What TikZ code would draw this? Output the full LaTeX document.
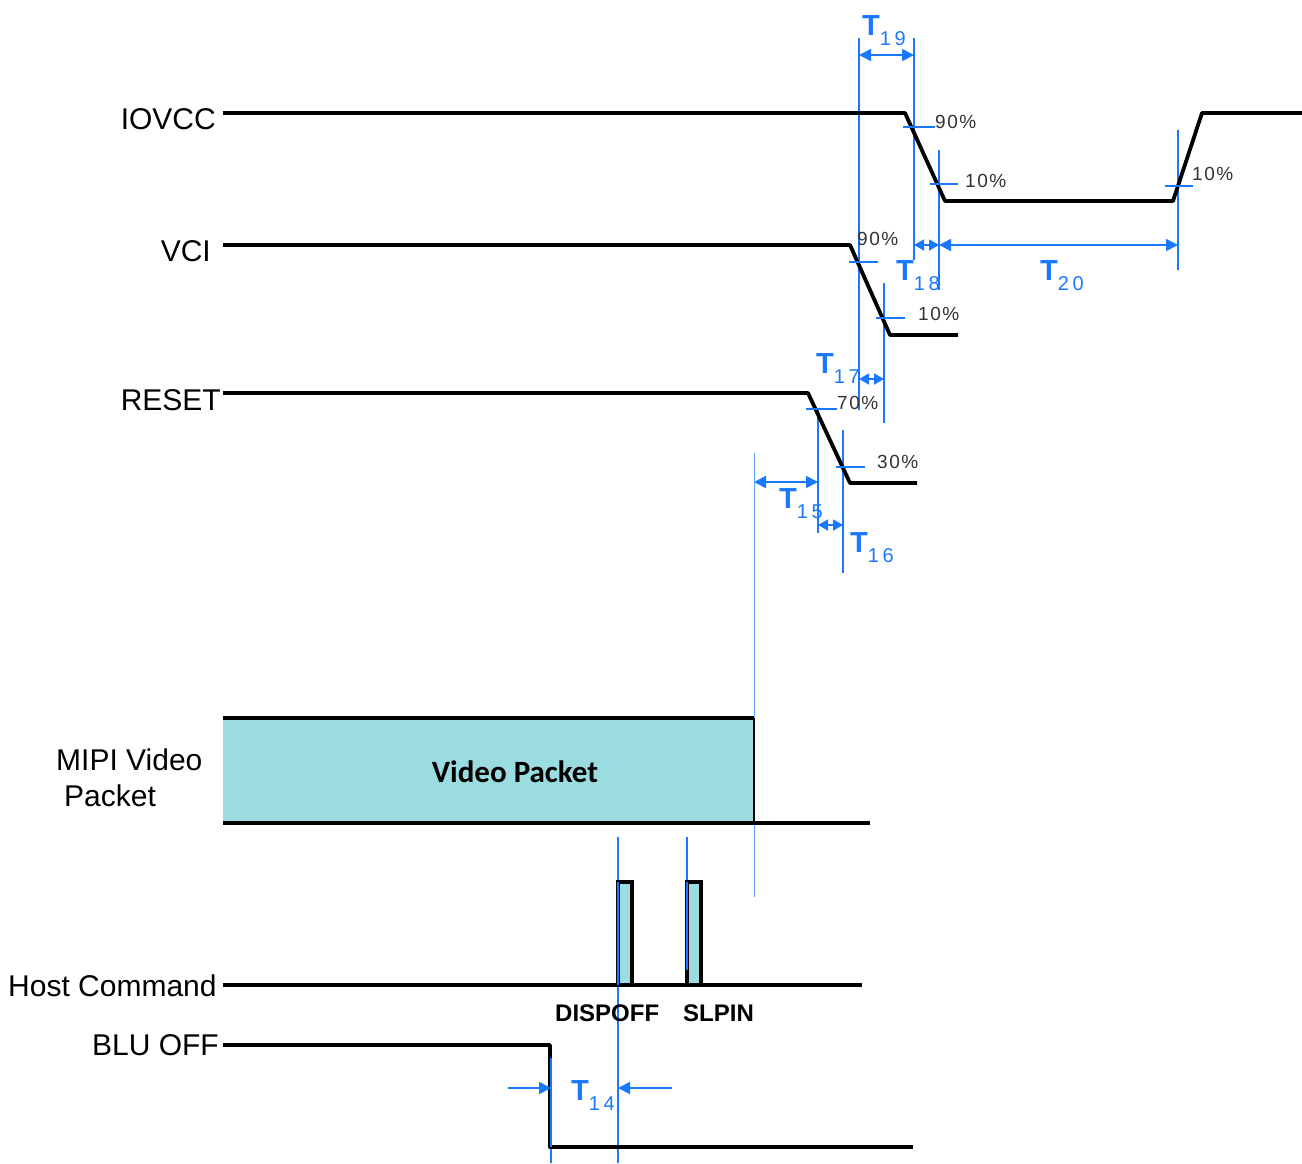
\documentclass[tikz,border=0pt]{standalone}
\usepackage{fontspec}
\setmainfont{Liberation Sans}
\newfontfamily\vpfont{Carlito}
\usetikzlibrary{arrows.meta}
\definecolor{dimblue}{RGB}{25,120,255}
\definecolor{pktcyan}{RGB}{154,220,224}
\newcommand{\Tlab}[1]{{\fontsize{29}{29}\selectfont\bfseries T}\raisebox{-10pt}{\fontsize{20}{20}\selectfont\addfontfeature{LetterSpace=18}#1}}
\begin{document}
\begin{tikzpicture}[x=1pt,y=-1pt,
  sig/.style={line width=3.8pt, line join=round},
  dimline/.style={dimblue, line width=1.3pt},
  faint/.style={dimblue!70, line width=1pt},
  tick/.style={dimblue, line width=1.3pt},
  dimarr/.style={dimblue, line width=1.8pt, {Triangle[length=12pt,width=12pt]}-{Triangle[length=12pt,width=12pt]}},
  smallarr/.style={dimblue, line width=1.8pt, {Triangle[length=10pt,width=11pt]}-{Triangle[length=10pt,width=11pt]}},
  onearr/.style={dimblue, line width=1.8pt, -{Triangle[length=12pt,width=12pt]}},
  siglabel/.style={font=\fontsize{30}{30}\selectfont, inner sep=0pt},
  pct/.style={font=\fontsize{19}{19}\selectfont\addfontfeature{LetterSpace=8}, text=black!80, inner sep=0pt, anchor=base west},
  tlab/.style={dimblue, inner sep=0pt, anchor=base west},
  cmd/.style={font=\fontsize{24}{24}\selectfont\bfseries, inner sep=0pt, anchor=base west}]
\path[use as bounding box] (0,0) rectangle (1302,1163);

% ---- blue guide lines
\draw[dimline] (859,38) -- (859,410);
\draw[dimline] (914,38) -- (914,260);
\draw[dimline] (939,150) -- (939,290);
\draw[dimline] (1178,130) -- (1178,270);
\draw[dimline] (884,283) -- (884,423);
\draw[dimline] (818,409) -- (818,533);
\draw[dimline] (843,430) -- (843,573);
\draw[faint] (754,453) -- (754,897);
\draw[dimline] (618,837) -- (618,1163);
\draw[dimline] (687,837) -- (687,970);
\draw[dimline] (551,1058) -- (551,1163);

% ---- video packet
\fill[pktcyan] (223,718) rectangle (754,823);
\draw[black, line width=2pt] (754,718) -- (754,823);
\draw[sig] (223,718) -- (754,718);
\draw[sig] (223,823) -- (870,823);
\node[font=\vpfont\fontsize{31}{31}\selectfont\bfseries, inner sep=0pt, anchor=base] (vp) at (515,782) {Video Packet};

% ---- signals
\draw[sig] (223,113) -- (905,113) -- (945,201) -- (1173,201) -- (1202,113) -- (1302,113);
\draw[sig] (223,245) -- (850,245) -- (890,335) -- (958,335);
\draw[sig] (223,393) -- (808,393) -- (850,483) -- (917,483);
\draw[sig] (223,985) -- (862,985);
\draw[line width=3.2pt, fill=pktcyan] (618,985) rectangle (632,882);
\draw[line width=3.2pt, fill=pktcyan] (687,985) rectangle (701,882);
\draw[dimline] (687,882) -- (687,970);
\draw[dimline] (618,882) -- (618,985);
\draw[sig] (223,1045) -- (550,1045) -- (550,1147) -- (913,1147);
\draw[dimline] (551,1058) -- (551,1147);

% ---- level ticks
\draw[tick] (903,127) -- (935,127);
\draw[tick] (930,184) -- (958,184);
\draw[tick] (1165,186) -- (1193,186);
\draw[tick] (849,262) -- (878,262);
\draw[tick] (876,318) -- (905,318);
\draw[tick] (806,409) -- (837,409);
\draw[tick] (836,467) -- (865,467);

% ---- percentages
\node[pct] (p1) at (935,128) {90\%};
\node[pct] (p2) at (965,187) {10\%};
\node[pct] (p3) at (1192,180) {10\%};
\node[pct] (p4) at (857,245) {90\%};
\node[pct] (p5) at (918,320) {10\%};
\node[pct] (p6) at (837,409) {70\%};
\node[pct] (p7) at (877,468) {30\%};

% ---- dimension arrows
\draw[dimarr] (859,55) -- (914,55);
\draw[smallarr] (914,245) -- (939,245);
\draw[dimarr] (939,245) -- (1178,245);
\draw[smallarr] (859,379) -- (884,379);
\draw[dimarr] (754,482) -- (818,482);
\draw[smallarr] (818,525) -- (843,525);
\draw[onearr] (508,1088) -- (551,1088);
\draw[onearr] (672,1088) -- (618,1088);

% ---- T labels
\node[tlab] (t19) at (862,35) {\Tlab{19}};
\node[tlab] (t18) at (896,280) {\Tlab{18}};
\node[tlab] (t20) at (1040,280) {\Tlab{20}};
\node[tlab] (t17) at (816,373) {\Tlab{17}};
\node[tlab] (t15) at (779,508) {\Tlab{15}};
\node[tlab] (t16) at (850,552) {\Tlab{16}};
\node[tlab] (t14) at (571,1100) {\Tlab{14}};

% ---- signal names
\node[siglabel, anchor=base east] (iovcc) at (216,129) {IOVCC};
\node[siglabel, anchor=base east] (vci) at (211,261) {VCI};
\node[siglabel, anchor=base east] (reset) at (221,410) {RESET};
\node[siglabel, anchor=base west] (mipi1) at (56,770) {MIPI Video};
\node[siglabel, anchor=base west] (mipi2) at (64,806) {Packet};
\node[siglabel, anchor=base west] (host) at (8,996) {Host Command};
\node[siglabel, anchor=base east] (blu) at (219,1055) {BLU OFF};
\node[cmd] (dispoff) at (555,1021) {DISPOFF};
\node[cmd] (slpin) at (683,1021) {SLPIN};
\end{tikzpicture}
\end{document}
